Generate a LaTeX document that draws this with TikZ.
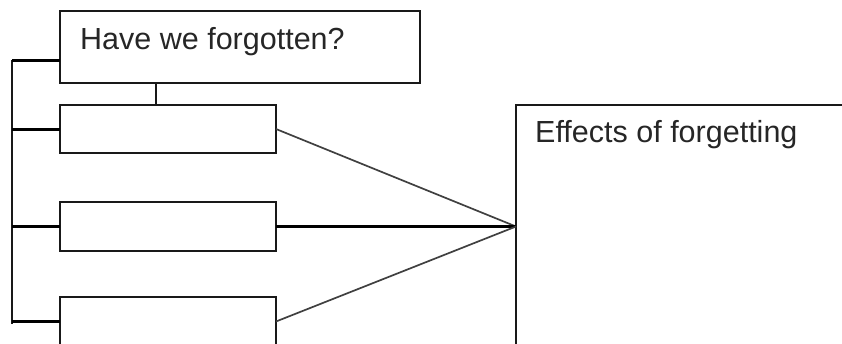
\documentclass[tikz,border=0pt]{standalone}
\usepackage{fontspec}
\setmainfont{Liberation Sans}
\usetikzlibrary{calc}
\begin{document}
\begin{tikzpicture}[x=1pt,y=-1pt,
  box/.style={draw=black!90, line width=2pt, rectangle, inner sep=0pt, outer sep=0pt, anchor=north west},
  lbl/.style={anchor=base west, inner sep=0pt, text=black!85, font=\fontsize{30.5}{36}\selectfont},
  thick/.style={draw=black, line width=3pt},
  thinline/.style={draw=black!75, line width=1.7pt},
  plain/.style={draw=black!90, line width=2pt}]
\useasboundingbox (0,0) rectangle (842,343);
\clip (0,0) rectangle (842,343);
\node[box, minimum width=360pt, minimum height=72pt] (top) at (60,11) {};
\node[lbl] (toptext) at (80,49) {Have we forgotten?};
\node[box, minimum width=216pt, minimum height=48pt] (b2) at (60,105) {};
\node[box, minimum width=216pt, minimum height=49pt] (b3) at (60,202) {};
\node[box, minimum width=216pt, minimum height=49pt] (b4) at (60,297) {};
\node[box, minimum width=400pt, minimum height=300pt] (right) at (516,105) {};
\node[lbl] (righttext) at (535,142) {Effects of forgetting};
% connector top box to second box
\coordinate (v) at ([xshift=96pt]top.south west);
\draw[plain] (v) -- (v |- b2.north);
% left spine
\coordinate (sp) at (12,0);
\coordinate (t0) at ([yshift=-13pt]top.west);
\coordinate (sEnd) at (12,324);
\draw[plain, line width=2.2pt] (sp |- t0) -- (sEnd);
\draw[thick] (sp |- t0) -- (t0);
\draw[thick] (sp |- b2.west) -- (b2.west);
\draw[thick] (sp |- b3.west) -- (b3.west);
\draw[thick] (sp |- b4.west) -- (b4.west);
% junction on the right box
\coordinate (j) at (right.west |- b3.east);
\draw[thinline] (b2.east) -- (j);
\draw[thick] (b3.east) -- (j);
\draw[thinline] (b4.east) -- (j);
\end{tikzpicture}
\end{document}
